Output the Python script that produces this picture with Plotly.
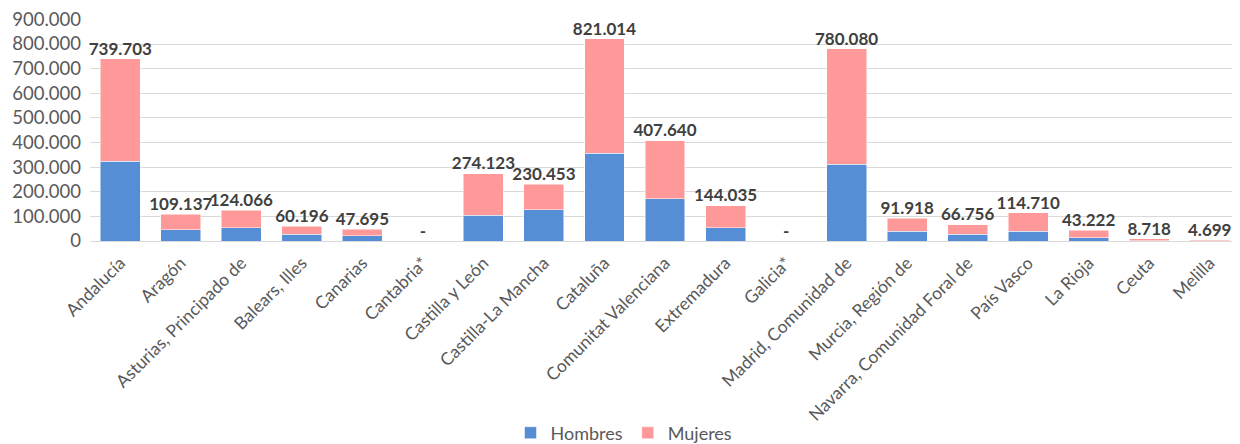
import plotly.graph_objects as go

categories = ["Andalucía", "Aragón", "Asturias, Principado de", "Balears, Illes", "Canarias",
              "Cantabria*", "Castilla y León", "Castilla-La Mancha", "Cataluña",
              "Comunitat Valenciana", "Extremadura", "Galicia*", "Madrid, Comunidad de",
              "Murcia, Región de", "Navarra, Comunidad Foral de", "País Vasco", "La Rioja",
              "Ceuta", "Melilla"]
hombres = [324000, 46000, 54000, 27000, 21000, None, 105000, 127000, 357000, 171000,
           53000, None, 312000, 40500, 27000, 40500, 13000, 2000, 1500]
mujeres = [415703, 63137, 70066, 33196, 26695, None, 169123, 103453, 464014, 236640,
           91035, None, 468080, 51418, 39756, 74210, 30222, 6718, 3199]
totales = [739703, 109137, 124066, 60196, 47695, None, 274123, 230453, 821014, 407640,
           144035, None, 780080, 91918, 66756, 114710, 43222, 8718, 4699]
total_labels = ["739.703", "109.137", "124.066", "60.196", "47.695", "-", "274.123", "230.453",
                "821.014", "407.640", "144.035", "-", "780.080", "91.918", "66.756", "114.710",
                "43.222", "8.718", "4.699"]
y_ticks = [0, 100000, 200000, 300000, 400000, 500000, 600000, 700000, 800000, 900000]
y_tick_labels = ["0", "100.000", "200.000", "300.000", "400.000", "500.000", "600.000",
                 "700.000", "800.000", "900.000"]

FONT = "Lato"
GREY = "#595959"

fig = go.Figure()
fig.add_trace(go.Bar(name="Hombres", x=categories, y=hombres,
                     marker=dict(color="#558ED5", line=dict(color="#FFFFFF", width=0.5))))
fig.add_trace(go.Bar(name="Mujeres", x=categories, y=mujeres,
                     marker=dict(color="#FF9999", line=dict(color="#FFFFFF", width=0.5))))
fig.add_trace(go.Scatter(x=categories, y=[t if t is not None else 0 for t in totales],
                         mode="text", text=total_labels, textposition="top center",
                         textfont=dict(family=FONT, size=17, color="#404040", weight="bold"),
                         showlegend=False, cliponaxis=False, hoverinfo="skip"))

fig.update_layout(
    barmode="stack",
    bargap=0.34,
    width=1232, height=436,
    margin=dict(l=82, r=0, t=11, b=203, autoexpand=False),
    paper_bgcolor="white", plot_bgcolor="white",
    font=dict(family=FONT, size=17, color=GREY),
    legend=dict(orientation="h", xref="container", x=0.5, xanchor="center",
                y=-0.865, yanchor="middle",
                font=dict(family=FONT, size=18, color=GREY), traceorder="normal",
                itemwidth=30),
    showlegend=True,
)
fig.update_xaxes(tickangle=-45, tickfont=dict(family=FONT, size=17.5, color=GREY),
                 automargin=False, range=[-0.5, len(categories) - 0.5],
                 ticklabelstandoff=4,
                 showline=True, linecolor="#D9D9D9", linewidth=1, ticks="", showgrid=False)
fig.update_yaxes(range=[0, 901500], tickvals=y_ticks, ticktext=y_tick_labels,
                 tickfont=dict(family=FONT, size=18.5, color=GREY), automargin=False,
                 ticklabeloverflow="allow",
                 showgrid=True, gridcolor="#D9D9D9", gridwidth=1, zeroline=False,
                 ticks="", showline=False, ticklabelstandoff=8)

fig.write_html("out.html")
